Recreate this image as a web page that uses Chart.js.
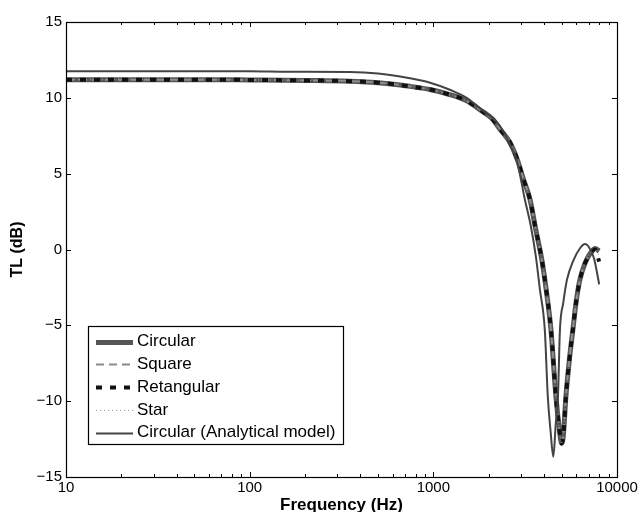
<!DOCTYPE html>
<html>
<head>
<meta charset="utf-8">
<script src="https://cdn.jsdelivr.net/npm/chart.js@4"></script>
<style>
html,body{margin:0;padding:0;background:#fff;}
#wrap{width:640px;height:512px;}
</style>
</head>
<body>
<div id="wrap"><canvas id="c" width="640" height="512"></canvas></div>
<script>
// ---- data ----
const xTickValues = [10, 100, 1000, 10000];
const yTickValues = [-15, -10, -5, 0, 5, 10, 15];
const seriesLabels = ['Circular', 'Square', 'Retangular', 'Star', 'Circular (Analytical model)'];

const numFreq = [10, 50, 100, 200, 350, 500, 660, 800, 960, 1200, 1520, 1800, 2100, 2300, 2600, 2870, 3100, 3360, 3600, 3900, 4100, 4370, 4650, 4850, 4990, 5100, 5270, 5500, 5750, 6000, 6280, 6700, 7200, 7600, 8000];
const circularTL = [11.2, 11.2, 11.18, 11.15, 11.1, 11.0, 10.85, 10.7, 10.55, 10.25, 9.8, 9.2, 8.6, 7.95, 7.1, 5.9, 4.6, 3.3, 1.4, -0.7, -2.5, -5.3, -9.7, -11.8, -12.76, -12.3, -9.7, -7.3, -5.3, -3.4, -2.0, -0.9, -0.2, 0.07, -0.1];
const squareTL = [11.2, 11.2, 11.18, 11.15, 11.1, 11.0, 10.85, 10.7, 10.55, 10.25, 9.8, 9.2, 8.6, 7.95, 7.1, 5.9, 4.6, 3.3, 1.4, -0.7, -2.5, -5.3, -9.7, -11.8, -12.7, -12.3, -9.7, -7.3, -5.3, -3.4, -2.0, -0.9, -0.2, 0.05, 0.0];
const rectTL = [11.2, 11.2, 11.18, 11.15, 11.1, 11.0, 10.85, 10.7, 10.55, 10.25, 9.8, 9.2, 8.6, 7.95, 7.1, 5.9, 4.6, 3.3, 1.4, -0.7, -2.5, -5.3, -9.7, -11.8, -12.8, -12.3, -9.7, -7.3, -5.3, -3.4, -2.0, -0.9, -0.25, 0.0, -0.8];
const starTL = [11.2, 11.2, 11.18, 11.15, 11.1, 11.0, 10.85, 10.7, 10.55, 10.25, 9.8, 9.2, 8.6, 7.95, 7.1, 5.9, 4.6, 3.3, 1.4, -0.7, -2.5, -5.3, -9.7, -11.8, -12.75, -12.3, -9.7, -7.3, -5.3, -3.4, -2.0, -0.9, -0.2, 0.05, -0.4];

const anaFreq = [10, 100, 160, 350, 500, 660, 960, 1250, 1520, 1800, 2300, 2600, 2850, 3150, 3400, 3620, 3800, 4045, 4200, 4350, 4500, 4640, 4770, 4890, 5100, 5340, 5800, 6300, 6700, 7000, 7500, 8000];
const analyticalTL = [11.75, 11.75, 11.72, 11.7, 11.6, 11.4, 11.0, 10.5, 10.0, 9.3, 8.16, 7.0, 5.86, 3.3, 1.5, -0.5, -2.6, -5.3, -9.7, -12.0, -13.66, -11.5, -9.7, -5.3, -3.5, -2.0, -0.7, 0.1, 0.37, 0.2, -0.6, -2.3];

const FONT = '"Liberation Sans", Arial, Helvetica, sans-serif';

function pts(xs, ys) { return xs.map((x, i) => ({x: x, y: ys[i]})); }

const styles = [
  {color: '#555555', width: 5, dash: []},
  {color: '#8a8a8a', width: 2, dash: [8, 5]},
  {color: '#111111', width: 4, dash: [6, 8]},
  {color: '#9a9a9a', width: 1, dash: [1, 3]},
  {color: '#444444', width: 2, dash: []}
];
const seriesData = [
  pts(numFreq, circularTL),
  pts(numFreq, squareTL),
  pts(numFreq, rectTL),
  pts(numFreq, starTL),
  pts(anaFreq, analyticalTL)
];
const orders = [5, 4, 2, 3, 1];

const datasets = seriesLabels.map((lab, i) => ({
  label: lab,
  data: seriesData[i],
  borderColor: styles[i].color,
  borderWidth: styles[i].width,
  borderDash: styles[i].dash,
  pointRadius: 0,
  fill: false,
  cubicInterpolationMode: 'monotone',
  order: orders[i]
}));

const boxPlugin = {
  id: 'matlabBox',
  afterDatasetsDraw(chart) {
    const ctx = chart.ctx;
    const a = chart.chartArea;
    const xs = chart.scales.x, ys = chart.scales.y;
    ctx.save();
    ctx.strokeStyle = '#000';
    ctx.lineWidth = 1;
    ctx.setLineDash([]);
    ctx.beginPath();
    for (let d = 10; d < 10000; d *= 10) {
      for (let k = 1; k <= 10; k++) {
        const v = d * k;
        if (v > 10000) continue;
        const px = Math.round(xs.getPixelForValue(v)) + 0.5;
        const len = (k === 1 || k === 10) ? 5 : 3;
        ctx.moveTo(px, a.bottom); ctx.lineTo(px, a.bottom - len);
        ctx.moveTo(px, a.top); ctx.lineTo(px, a.top + len);
      }
    }
    yTickValues.forEach(v => {
      const py = Math.round(ys.getPixelForValue(v)) + 0.5;
      ctx.moveTo(a.left, py); ctx.lineTo(a.left + 5, py);
      ctx.moveTo(a.right, py); ctx.lineTo(a.right - 5, py);
    });
    ctx.stroke();
    ctx.lineWidth = 1.2;
    ctx.strokeRect(Math.round(a.left) + 0.5, Math.round(a.top) + 0.5, Math.round(a.right - a.left), Math.round(a.bottom - a.top));
    ctx.restore();
  },
  afterDraw(chart) {
    // legend box inside plot area
    const ctx = chart.ctx;
    const bx = 88, by = 326, bw = 255, bh = 118;
    ctx.save();
    ctx.fillStyle = '#fff';
    ctx.fillRect(bx, by, bw, bh);
    ctx.strokeStyle = '#000';
    ctx.lineWidth = 1.2;
    ctx.setLineDash([]);
    ctx.strokeRect(bx + 0.5, by + 0.5, bw, bh);
    ctx.font = '17px ' + FONT;
    ctx.textBaseline = 'middle';
    ctx.textAlign = 'left';
    const rowY = [341.5, 364.3, 387.1, 409.9, 432.7];
    chart.data.datasets.forEach((ds, i) => {
      const y = Math.round(rowY[i]) + 0.5;
      ctx.beginPath();
      ctx.strokeStyle = ds.borderColor;
      ctx.lineWidth = ds.borderWidth;
      ctx.setLineDash(ds.borderDash || []);
      ctx.moveTo(96, y); ctx.lineTo(133, y);
      ctx.stroke();
      ctx.setLineDash([]);
      ctx.fillStyle = '#000';
      ctx.fillText(ds.label, 137, rowY[i]);
    });
    ctx.restore();
  }
};

new Chart(document.getElementById('c'), {
  type: 'line',
  data: {datasets: datasets},
  options: {
    responsive: false,
    animation: false,
    devicePixelRatio: 1,
    layout: {padding: {left: 0, top: 22, right: 23, bottom: 0}},
    plugins: {legend: {display: false}, tooltip: {enabled: false}},
    scales: {
      x: {
        type: 'logarithmic',
        min: 10, max: 10000,
        grid: {display: false, drawTicks: false},
        border: {display: false},
        afterBuildTicks(scale) { scale.ticks = xTickValues.map(v => ({value: v})); },
        afterFit(scale) { scale.height = 35; },
        ticks: {
          autoSkip: false, maxRotation: 0, padding: 2,
          color: '#000', font: {family: FONT, size: 15},
          callback: (v) => String(v)
        },
        title: {display: true, text: 'Frequency (Hz)', color: '#000',
          font: {family: FONT, size: 17, weight: 'bold', lineHeight: 1}, padding: {top: 0, bottom: -2}}
      },
      y: {
        type: 'linear',
        min: -15, max: 15,
        grid: {display: false, drawTicks: false},
        border: {display: false},
        afterBuildTicks(scale) { scale.ticks = yTickValues.map(v => ({value: v})); },
        afterFit(scale) { scale.width = 66; },
        ticks: {
          autoSkip: false, padding: 4,
          color: '#000', font: {family: FONT, size: 15},
          callback: (v) => (v < 0 ? '\u2212' + Math.abs(v) : String(v))
        },
        title: {display: true, text: 'TL (dB)', color: '#000',
          font: {family: FONT, size: 16, weight: 'bold', lineHeight: 1}, padding: {top: 10, bottom: 0}}
      }
    }
  },
  plugins: [boxPlugin]
});
</script>
</body>
</html>
